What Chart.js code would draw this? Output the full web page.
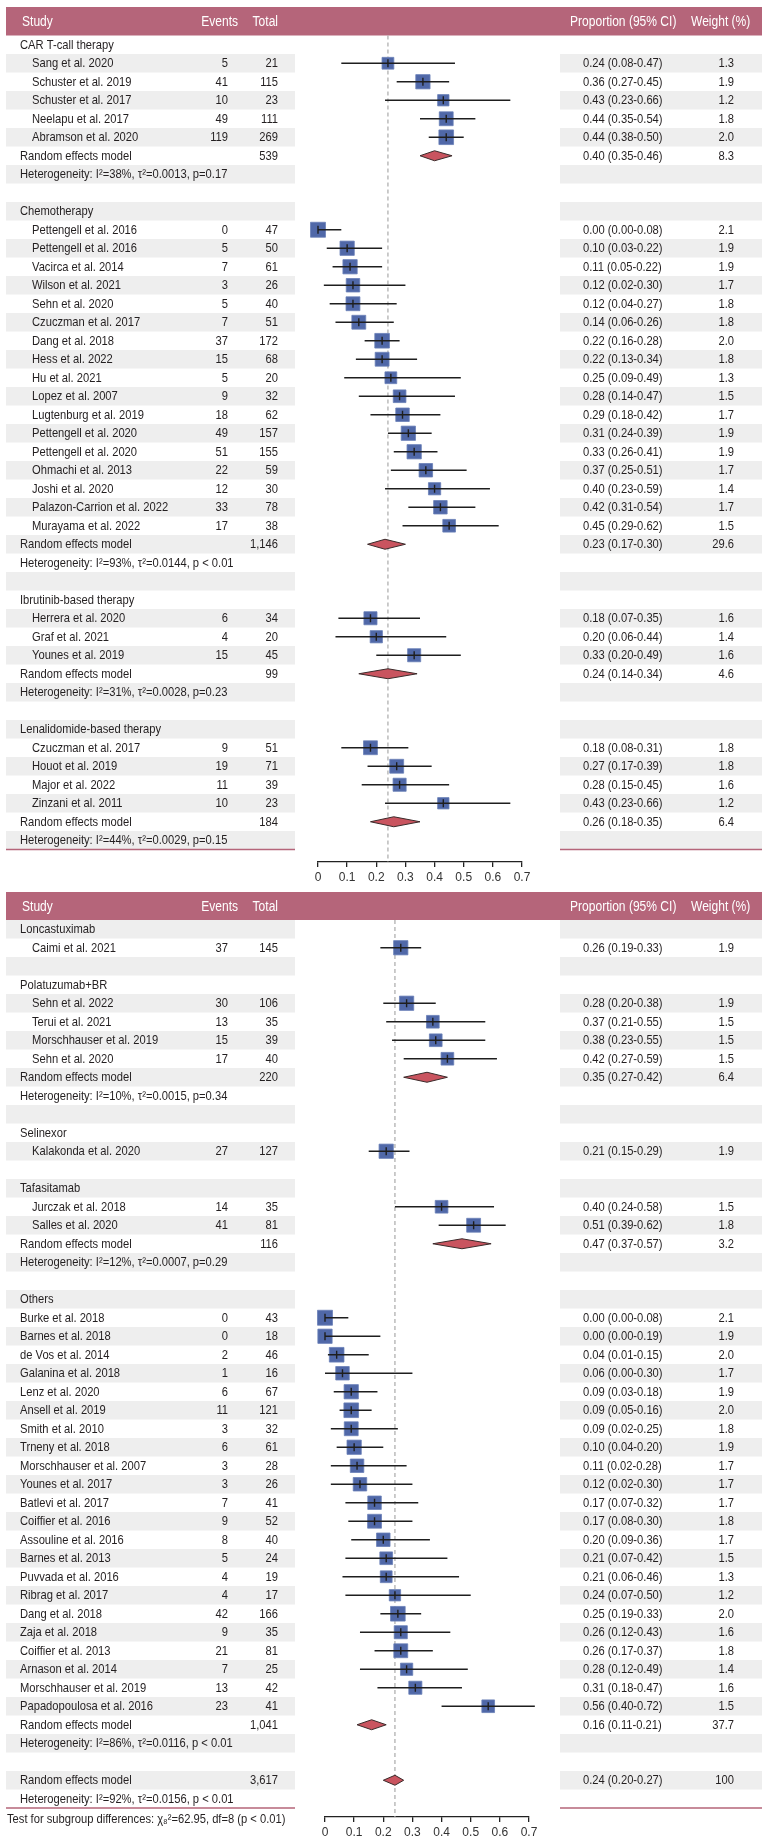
<!DOCTYPE html>
<html>
<head>
<meta charset="utf-8">
<script src="https://cdn.jsdelivr.net/npm/chart.js@4.4.1/dist/chart.umd.min.js"></script>
<style>
  body { margin: 0; background: #fff; }
  .panel { position: absolute; left: 0; width: 765px; }
</style>
</head>
<body>
<div class="panel" style="top:0;height:890px"><canvas id="topChart"></canvas></div>
<div class="panel" style="top:890px;height:955px"><canvas id="bottomChart"></canvas></div>
<script>
// ---- data ----
const tickValues = [0, 0.1, 0.2, 0.3, 0.4, 0.5, 0.6, 0.7];
const tickLabels = ['0', '0.1', '0.2', '0.3', '0.4', '0.5', '0.6', '0.7'];
const overallEstimate = 0.24;
const headerLabels = ['Study', 'Events', 'Total', 'Proportion (95% CI)', 'Weight (%)'];

// top panel, one entry per row (g = subgroup, s = study, m = model, h = heterogeneity, '' = blank)
const topLabels = [
  'CAR T-call therapy', 'Sang et al. 2020', 'Schuster et al. 2019', 'Schuster et al. 2017', 'Neelapu et al. 2017',
  'Abramson et al. 2020', 'Random effects model', 'Heterogeneity: I\u00b2=38%, \u03c4\u00b2=0.0013, p=0.17', '',
  'Chemotherapy', 'Pettengell et al. 2016', 'Pettengell et al. 2016', 'Vacirca et al. 2014', 'Wilson et al. 2021',
  'Sehn et al. 2020', 'Czuczman et al. 2017', 'Dang et al. 2018', 'Hess et al. 2022', 'Hu et al. 2021',
  'Lopez et al. 2007', 'Lugtenburg et al. 2019', 'Pettengell et al. 2020', 'Pettengell et al. 2020',
  'Ohmachi et al. 2013', 'Joshi et al. 2020', 'Palazon-Carrion et al. 2022', 'Murayama et al. 2022',
  'Random effects model', 'Heterogeneity: I\u00b2=93%, \u03c4\u00b2=0.0144, p < 0.01', '',
  'Ibrutinib-based therapy', 'Herrera et al. 2020', 'Graf et al. 2021', 'Younes et al. 2019',
  'Random effects model', 'Heterogeneity: I\u00b2=31%, \u03c4\u00b2=0.0028, p=0.23', '',
  'Lenalidomide-based therapy', 'Czuczman et al. 2017', 'Houot et al. 2019', 'Major et al. 2022', 'Zinzani et al. 2011',
  'Random effects model', 'Heterogeneity: I\u00b2=44%, \u03c4\u00b2=0.0029, p=0.15'
];
const topKinds = [
  'g', 's', 's', 's', 's', 's', 'm', 'h', '',
  'g', 's', 's', 's', 's', 's', 's', 's', 's', 's', 's', 's', 's', 's', 's', 's', 's', 's', 'm', 'h', '',
  'g', 's', 's', 's', 'm', 'h', '',
  'g', 's', 's', 's', 's', 'm', 'h'
];
const topEvents = [
  null, 5, 41, 10, 49, 119, null, null, null,
  null, 0, 5, 7, 3, 5, 7, 37, 15, 5, 9, 18, 49, 51, 22, 12, 33, 17, null, null, null,
  null, 6, 4, 15, null, null, null,
  null, 9, 19, 11, 10, null, null
];
const topTotals = [
  null, 21, 115, 23, 111, 269, 539, null, null,
  null, 47, 50, 61, 26, 40, 51, 172, 68, 20, 32, 62, 157, 155, 59, 30, 78, 38, 1146, null, null,
  null, 34, 20, 45, 99, null, null,
  null, 51, 71, 39, 23, 184, null
];
const topEst = [
  null, 0.24, 0.36, 0.43, 0.44, 0.44, 0.40, null, null,
  null, 0.00, 0.10, 0.11, 0.12, 0.12, 0.14, 0.22, 0.22, 0.25, 0.28, 0.29, 0.31, 0.33, 0.37, 0.40, 0.42, 0.45, 0.23, null, null,
  null, 0.18, 0.20, 0.33, 0.24, null, null,
  null, 0.18, 0.27, 0.28, 0.43, 0.26, null
];
const topLow = [
  null, 0.08, 0.27, 0.23, 0.35, 0.38, 0.35, null, null,
  null, 0.00, 0.03, 0.05, 0.02, 0.04, 0.06, 0.16, 0.13, 0.09, 0.14, 0.18, 0.24, 0.26, 0.25, 0.23, 0.31, 0.29, 0.17, null, null,
  null, 0.07, 0.06, 0.20, 0.14, null, null,
  null, 0.08, 0.17, 0.15, 0.23, 0.18, null
];
const topHigh = [
  null, 0.47, 0.45, 0.66, 0.54, 0.50, 0.46, null, null,
  null, 0.08, 0.22, 0.22, 0.30, 0.27, 0.26, 0.28, 0.34, 0.49, 0.47, 0.42, 0.39, 0.41, 0.51, 0.59, 0.54, 0.62, 0.30, null, null,
  null, 0.35, 0.44, 0.49, 0.34, null, null,
  null, 0.31, 0.39, 0.45, 0.66, 0.35, null
];
const topWeight = [
  null, 1.3, 1.9, 1.2, 1.8, 2.0, 8.3, null, null,
  null, 2.1, 1.9, 1.9, 1.7, 1.8, 1.8, 2.0, 1.8, 1.3, 1.5, 1.7, 1.9, 1.9, 1.7, 1.4, 1.7, 1.5, 29.6, null, null,
  null, 1.6, 1.4, 1.6, 4.6, null, null,
  null, 1.8, 1.8, 1.6, 1.2, 6.4, null
];

// bottom panel (f = study without indent)
const botLabels = [
  'Loncastuximab', 'Caimi et al. 2021', '',
  'Polatuzumab+BR', 'Sehn et al. 2022', 'Terui et al. 2021', 'Morschhauser et al. 2019', 'Sehn et al. 2020',
  'Random effects model', 'Heterogeneity: I\u00b2=10%, \u03c4\u00b2=0.0015, p=0.34', '',
  'Selinexor', 'Kalakonda et al. 2020', '',
  'Tafasitamab', 'Jurczak et al. 2018', 'Salles et al. 2020', 'Random effects model',
  'Heterogeneity: I\u00b2=12%, \u03c4\u00b2=0.0007, p=0.29', '',
  'Others', 'Burke et al. 2018', 'Barnes et al. 2018', 'de Vos et al. 2014', 'Galanina et al. 2018', 'Lenz et al. 2020',
  'Ansell et al. 2019', 'Smith et al. 2010', 'Trneny et al. 2018', 'Morschhauser et al. 2007', 'Younes et al. 2017',
  'Batlevi et al. 2017', 'Coiffier et al. 2016', 'Assouline et al. 2016', 'Barnes et al. 2013', 'Puvvada et al. 2016',
  'Ribrag et al. 2017', 'Dang et al. 2018', 'Zaja et al. 2018', 'Coiffier et al. 2013', 'Arnason et al. 2014',
  'Morschhauser et al. 2019', 'Papadopoulosa et al. 2016', 'Random effects model',
  'Heterogeneity: I\u00b2=86%, \u03c4\u00b2=0.0116, p < 0.01', '',
  'Random effects model', 'Heterogeneity: I\u00b2=92%, \u03c4\u00b2=0.0156, p < 0.01'
];
const botKinds = [
  'g', 's', '',
  'g', 's', 's', 's', 's', 'm', 'h', '',
  'g', 's', '',
  'g', 's', 's', 'm', 'h', '',
  'g', 'f', 'f', 'f', 'f', 'f', 'f', 'f', 'f', 'f', 'f', 'f', 'f', 'f', 'f', 'f', 'f', 'f', 'f', 'f', 'f', 'f', 'f', 'm', 'h', '',
  'm', 'h'
];
const botEvents = [
  null, 37, null,
  null, 30, 13, 15, 17, null, null, null,
  null, 27, null,
  null, 14, 41, null, null, null,
  null, 0, 0, 2, 1, 6, 11, 3, 6, 3, 3, 7, 9, 8, 5, 4, 4, 42, 9, 21, 7, 13, 23, null, null, null,
  null, null
];
const botTotals = [
  null, 145, null,
  null, 106, 35, 39, 40, 220, null, null,
  null, 127, null,
  null, 35, 81, 116, null, null,
  null, 43, 18, 46, 16, 67, 121, 32, 61, 28, 26, 41, 52, 40, 24, 19, 17, 166, 35, 81, 25, 42, 41, 1041, null, null,
  3617, null
];
const botEst = [
  null, 0.26, null,
  null, 0.28, 0.37, 0.38, 0.42, 0.35, null, null,
  null, 0.21, null,
  null, 0.40, 0.51, 0.47, null, null,
  null, 0.00, 0.00, 0.04, 0.06, 0.09, 0.09, 0.09, 0.10, 0.11, 0.12, 0.17, 0.17, 0.20, 0.21, 0.21, 0.24, 0.25, 0.26, 0.26, 0.28, 0.31, 0.56, 0.16, null, null,
  0.24, null
];
const botLow = [
  null, 0.19, null,
  null, 0.20, 0.21, 0.23, 0.27, 0.27, null, null,
  null, 0.15, null,
  null, 0.24, 0.39, 0.37, null, null,
  null, 0.00, 0.00, 0.01, 0.00, 0.03, 0.05, 0.02, 0.04, 0.02, 0.02, 0.07, 0.08, 0.09, 0.07, 0.06, 0.07, 0.19, 0.12, 0.17, 0.12, 0.18, 0.40, 0.11, null, null,
  0.20, null
];
const botHigh = [
  null, 0.33, null,
  null, 0.38, 0.55, 0.55, 0.59, 0.42, null, null,
  null, 0.29, null,
  null, 0.58, 0.62, 0.57, null, null,
  null, 0.08, 0.19, 0.15, 0.30, 0.18, 0.16, 0.25, 0.20, 0.28, 0.30, 0.32, 0.30, 0.36, 0.42, 0.46, 0.50, 0.33, 0.43, 0.37, 0.49, 0.47, 0.72, 0.21, null, null,
  0.27, null
];
const botWeight = [
  null, 1.9, null,
  null, 1.9, 1.5, 1.5, 1.5, 6.4, null, null,
  null, 1.9, null,
  null, 1.5, 1.8, 3.2, null, null,
  null, 2.1, 1.9, 2.0, 1.7, 1.9, 2.0, 1.8, 1.9, 1.7, 1.7, 1.7, 1.8, 1.7, 1.5, 1.3, 1.2, 2.0, 1.6, 1.8, 1.4, 1.6, 1.5, 37.7, null, null,
  100, null
];
const subgroupTest = 'Test for subgroup differences: \u03c7\u2088\u00b2=62.95, df=8 (p < 0.01)';

// ---- style ----
const FONT = "'Liberation Sans', Arial, sans-serif";
const SX = 0.86; // horizontal squeeze to mimic the condensed face
const TEXT = '#231f20';
const HEADER_BG = '#b5657a';
const SHADE = '#eeeeee';
const SQUARE = '#5068a8';
const DIAMOND = '#c9545f';
const ROW_H = 18.5;

Chart.defaults.font.family = FONT;

function fmtTotal(n) { return n.toLocaleString('en-US'); }
function fmtWeight(w) { return w >= 100 ? String(w) : w.toFixed(1); }

function txt(ctx, s, x, y, align) {
  ctx.save();
  ctx.translate(x, y);
  ctx.scale(SX, 1);
  ctx.textAlign = align;
  ctx.fillText(s, 0, 0);
  ctx.restore();
}

function tablePlugin(p) {
  return {
    id: 'forestTable',
    beforeDraw(chart) {
      const ctx = chart.ctx, y = chart.scales.y;
      const top = i => y.getPixelForValue(i - 0.5);
      ctx.save();
      ctx.fillStyle = HEADER_BG;
      ctx.fillRect(6, p.headerTop, 756, top(0) - p.headerTop);
      ctx.fillStyle = SHADE;
      p.labels.forEach((_, i) => {
        if (i % 2 !== p.shadeParity) return;
        const t = top(i), h = top(i + 1) - t;
        ctx.fillRect(6, t, 289, h);
        ctx.fillRect(560, t, 202, h);
      });
      const b = top(p.labels.length);
      ctx.strokeStyle = HEADER_BG;
      ctx.lineWidth = 1.5;
      ctx.beginPath();
      ctx.moveTo(6, b); ctx.lineTo(295, b);
      ctx.moveTo(560, b); ctx.lineTo(762, b);
      ctx.stroke();

      // header text
      const hy = (p.headerTop + top(0)) / 2 + 1;
      ctx.fillStyle = '#fff';
      ctx.font = '14px ' + FONT;
      ctx.textBaseline = 'middle';
      txt(ctx, headerLabels[0], 22, hy, 'left');
      txt(ctx, headerLabels[1], 238, hy, 'right');
      txt(ctx, headerLabels[2], 278, hy, 'right');
      txt(ctx, headerLabels[3], 570, hy, 'left');
      txt(ctx, headerLabels[4], 691, hy, 'left');

      // rows
      ctx.fillStyle = TEXT;
      ctx.font = '13px ' + FONT;
      p.labels.forEach((lab, i) => {
        const k = p.kinds[i];
        if (!k) return;
        const cy = y.getPixelForValue(i) + 0.5;
        txt(ctx, lab, k === 's' ? 32 : 20, cy, 'left');
        if (p.events[i] != null) txt(ctx, String(p.events[i]), 228, cy, 'right');
        if (p.totals[i] != null) txt(ctx, fmtTotal(p.totals[i]), 278, cy, 'right');
        if (p.est[i] != null) {
          txt(ctx, p.est[i].toFixed(2) + ' (' + p.low[i].toFixed(2) + '-' + p.high[i].toFixed(2) + ')', 583, cy, 'left');
          txt(ctx, fmtWeight(p.weight[i]), 734, cy, 'right');
        }
      });
      if (p.footer) txt(ctx, p.footer, 7, chart.chartArea.bottom + 2, 'left');
      ctx.restore();
    },
    beforeDatasetsDraw(chart) {
      const ctx = chart.ctx, x = chart.scales.x, a = chart.chartArea;
      const px = x.getPixelForValue(overallEstimate);
      ctx.save();
      ctx.strokeStyle = '#aaaaaa';
      ctx.lineWidth = 1.2;
      ctx.setLineDash([4, 3]);
      ctx.beginPath();
      ctx.moveTo(px, a.top); ctx.lineTo(px, a.bottom);
      ctx.stroke();
      ctx.restore();
    },
    afterDatasetsDraw(chart) {
      const ctx = chart.ctx, x = chart.scales.x, y = chart.scales.y;
      ctx.save();
      p.kinds.forEach((k, i) => {
        if (p.est[i] == null) return;
        const cy = y.getPixelForValue(i);
        const xl = x.getPixelForValue(p.low[i]), xe = x.getPixelForValue(p.est[i]), xh = x.getPixelForValue(p.high[i]);
        if (k === 'm') {
          ctx.beginPath();
          ctx.moveTo(xl, cy); ctx.lineTo(xe, cy - 5); ctx.lineTo(xh, cy); ctx.lineTo(xe, cy + 5); ctx.closePath();
          ctx.fillStyle = DIAMOND;
          ctx.fill();
          ctx.lineWidth = 1;
          ctx.strokeStyle = '#3a2a2a';
          ctx.stroke();
        } else {
          ctx.lineWidth = 1.4;
          ctx.strokeStyle = '#1e1e1e';
          ctx.beginPath();
          ctx.moveTo(xl, cy); ctx.lineTo(xh, cy);
          ctx.moveTo(xe, cy - 4); ctx.lineTo(xe, cy + 4);
          ctx.stroke();
        }
      });
      ctx.restore();
    }
  };
}

function buildPanel(id, p) {
  const pts = [], radii = [];
  p.kinds.forEach((k, i) => {
    if (k === 's' || k === 'f') {
      pts.push({ x: p.est[i], y: i });
      radii.push(10.35 * Math.sqrt(p.weight[i]) / Math.SQRT2);
    }
  });
  const yMax = -0.5 + (p.canvasH - p.padTop - p.axisH) / ROW_H;
  return new Chart(document.getElementById(id), {
    type: 'scatter',
    data: {
      datasets: [{
        data: pts,
        pointStyle: 'rect',
        pointRadius: radii,
        pointBackgroundColor: SQUARE,
        pointBorderColor: '#6a80b8',
        pointBorderWidth: 0.8,
        clip: false
      }]
    },
    options: {
      responsive: true,
      maintainAspectRatio: false,
      animation: false,
      events: [],
      layout: { padding: { left: p.x0, right: 765 - p.x7, top: p.padTop, bottom: 0 } },
      plugins: { legend: { display: false }, tooltip: { enabled: false } },
      scales: {
        x: {
          type: 'linear',
          min: 0,
          max: 0.7,
          afterBuildTicks: s => { s.ticks = tickValues.map(v => ({ value: v })); },
          afterFit: s => { s.height = p.axisH; },
          border: { display: true, color: '#222', width: 1.3 },
          grid: { drawOnChartArea: false, drawTicks: true, tickLength: 5, color: '#222', lineWidth: 1.3 },
          ticks: {
            padding: 3,
            color: '#333',
            font: { size: 12, family: FONT },
            maxRotation: 0,
            autoSkip: false,
            callback: (v, i) => tickLabels[i]
          }
        },
        y: { type: 'linear', display: false, reverse: true, min: -0.5, max: yMax }
      }
    },
    plugins: [tablePlugin(p)]
  });
}

buildPanel('topChart', {
  labels: topLabels, kinds: topKinds, events: topEvents, totals: topTotals,
  est: topEst, low: topLow, high: topHigh, weight: topWeight,
  shadeParity: 1, headerTop: 7, padTop: 35.5, axisH: 28, canvasH: 890, x0: 318, x7: 522
});
buildPanel('bottomChart', {
  labels: botLabels, kinds: botKinds, events: botEvents, totals: botTotals,
  est: botEst, low: botLow, high: botHigh, weight: botWeight,
  shadeParity: 0, headerTop: 2, padTop: 30, axisH: 28, canvasH: 955, x0: 325, x7: 529,
  footer: subgroupTest
});
</script>
</body>
</html>
